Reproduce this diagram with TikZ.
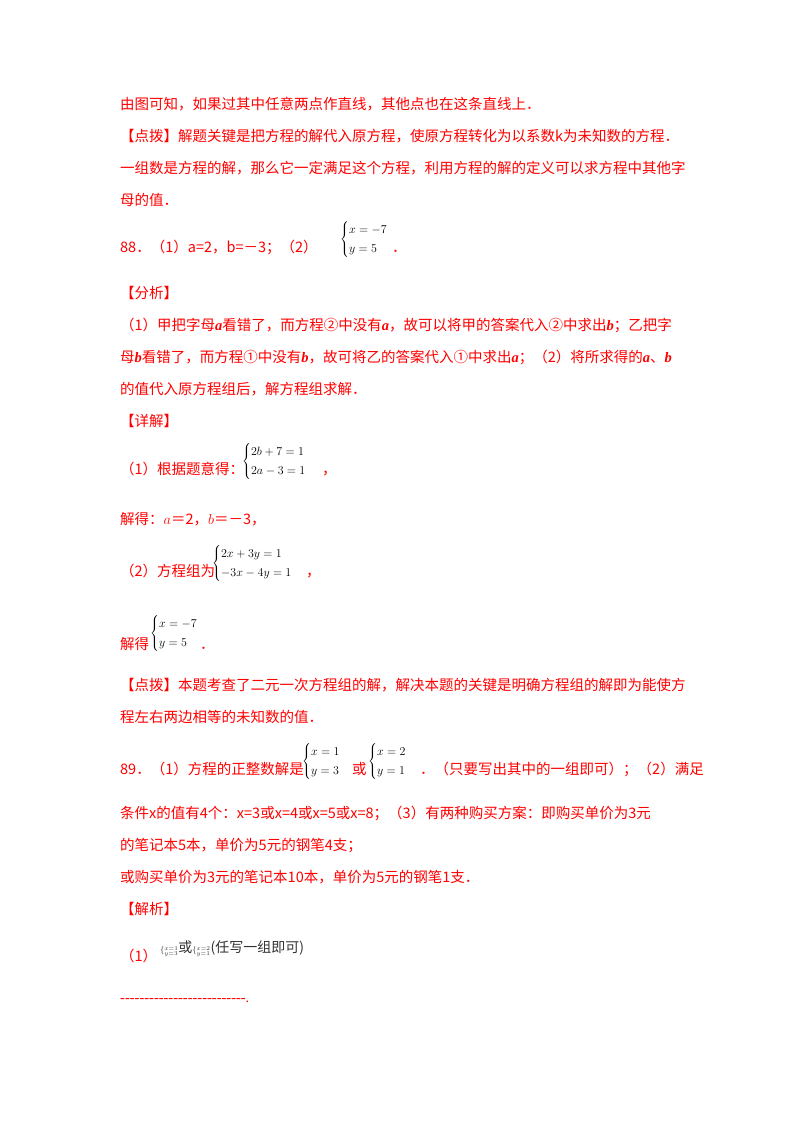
\documentclass[tikz,border=0pt]{standalone}
\usepackage{fontspec}
\setmainfont{Noto Sans CJK SC}
\newfontfamily\tms{Liberation Serif}
\newcommand{\bi}[1]{{\tms\bfseries\itshape #1}}
\renewcommand{\arraystretch}{1.3}
\definecolor{rd}{RGB}{255,0,0}
\tikzset{t/.style={anchor=base west,inner sep=0pt,text=rd,font=\fontsize{14.5}{17}\selectfont},
 m/.style={anchor=south west,inner sep=0pt,text=black,font=\fontsize{13}{15}\selectfont}}
\newcommand{\T}[4]{\node[t] (#1) at (#2pt,{(1132-#3)*1pt}) {#4};}
\newcommand{\M}[4]{\node[m] (#1) at (#2pt,{(1132-#3-6)*1pt}) {#4};}
\begin{document}
\begin{tikzpicture}
\fill[white] (0,0) rectangle (800pt,1132pt);
\T{l1}{120}{110}{由图可知，如果过其中任意两点作直线，其他点也在这条直线上．}
\T{l2}{120}{142}{【点拨】解题关键是把方程的解代入原方程，使原方程转化为以系数k为未知数的方程．}
\T{l3}{120}{174}{一组数是方程的解，那么它一定满足这个方程，利用方程的解的定义可以求方程中其他字}
\T{l4}{120}{206}{母的值．}
\T{l5}{120}{253}{88．（1）a=2，b=－3；（2）}
\M{e1}{340}{253}{$\left\{\begin{array}{@{}l}x=-7\\ y=5\end{array}\right.$}
\T{l5b}{392}{253}{．}
\T{l6}{120}{299}{【分析】}
\T{l7}{120}{331}{（1）甲把字母\bi{a}看错了，而方程②中没有\bi{a}，故可以将甲的答案代入②中求出\bi{b}；乙把字}
\T{l8}{120}{363}{母\bi{b}看错了，而方程①中没有\bi{b}，故可将乙的答案代入①中求出\bi{a}；（2）将所求得的\bi{a}、\bi{b}}
\T{l9}{120}{395}{的值代入原方程组后，解方程组求解．}
\T{l10}{120}{427}{【详解】}
\T{l11}{120}{475}{（1）根据题意得：}
\M{e2}{242}{475}{$\left\{\begin{array}{@{}l}2b+7=1\\ 2a-3=1\end{array}\right.$}
\T{l11b}{322}{475}{，}
\T{l12}{120}{525}{解得：$a$＝2，$b$＝－3，}
\T{l13}{120}{577}{（2）方程组为}
\M{e3}{212}{577}{$\left\{\begin{array}{@{}l}2x+3y=1\\ -3x-4y=1\end{array}\right.$}
\T{l13b}{306}{577}{，}
\M{e4}{150}{647}{$\left\{\begin{array}{@{}l}x=-7\\ y=5\end{array}\right.$}
\T{l14}{120}{650}{解得}
\T{l14b}{200}{650}{．}
\T{l15}{120}{691}{【点拨】本题考查了二元一次方程组的解，解决本题的关键是明确方程组的解即为能使方}
\T{l16}{120}{723}{程左右两边相等的未知数的值．}
\T{l17}{120}{775}{89．（1）方程的正整数解是}
\M{e5}{302}{775}{$\left\{\begin{array}{@{}l}x=1\\ y=3\end{array}\right.$}
\T{l17a}{352}{775}{或}
\M{e6}{368}{775}{$\left\{\begin{array}{@{}l}x=2\\ y=1\end{array}\right.$}
\T{l17b}{420}{775}{．（只要写出其中的一组即可）；（2）满足}
\T{l18}{120}{819}{条件x的值有4个：x=3或x=4或x=5或x=8；（3）有两种购买方案：即购买单价为3元}
\T{l19}{120}{851}{的笔记本5本，单价为5元的钢笔4支；}
\T{l20}{120}{883}{或购买单价为3元的笔记本10本，单价为5元的钢笔1支．}
\T{l21}{120}{915}{【解析】}
\T{l22}{120}{962}{（1）}
\node[anchor=base west,inner sep=0pt,text=black!80] (e7) at (160pt,{(1132-953)*1pt}) {\fontsize{8}{8}\selectfont$\{^{x=1}_{y=3}$\fontsize{14}{16}\selectfont 或\fontsize{8}{8}\selectfont$\{^{x=2}_{y=1}$\fontsize{14}{16}\selectfont (任写一组即可)};
\T{l23}{120}{1003}{\tms{-}-------------------------.}
\end{tikzpicture}
\end{document}
